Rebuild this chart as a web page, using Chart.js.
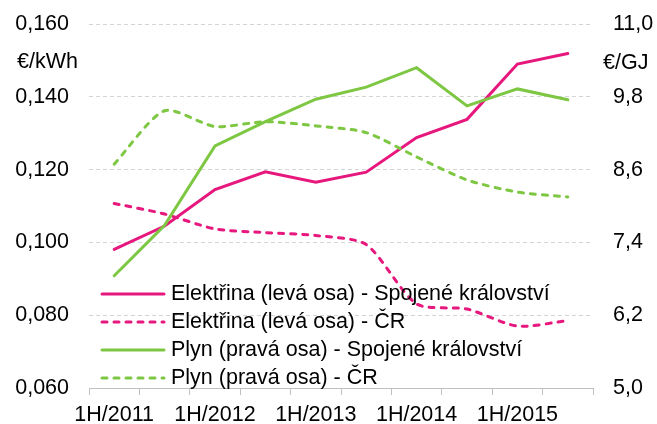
<!DOCTYPE html>
<html>
<head>
<meta charset="utf-8">
<script src="https://cdn.jsdelivr.net/npm/chart.js@4/dist/chart.umd.min.js"></script>
<style>
  body { margin: 0; background: #fff; }
  canvas { display: block; }
</style>
</head>
<body>
<canvas id="graf" width="657" height="424"></canvas>
<script>
// pololetí
const obdobi = ['1H/2011', '2H/2011', '1H/2012', '2H/2012', '1H/2013', '2H/2013', '1H/2014', '2H/2014', '1H/2015', '2H/2015'];

// €/kWh (levá osa)
const elektrinaUK = [0.0981, 0.1045, 0.1145, 0.1194, 0.1165, 0.1193, 0.1288, 0.1338, 0.1490, 0.1519];
const elektrinaCR = [0.1107, 0.1078, 0.1037, 0.1027, 0.1019, 0.0994, 0.0831, 0.0817, 0.0770, 0.0785];

// €/GJ (pravá osa)
const plynUK = [6.85, 7.68, 8.99, 9.39, 9.76, 9.96, 10.28, 9.65, 9.93, 9.75];
const plynCR = [8.69, 9.57, 9.31, 9.39, 9.32, 9.21, 8.81, 8.43, 8.23, 8.15];

const levaOsaTicks = [0.060, 0.080, 0.100, 0.120, 0.140, 0.160];
const pravaOsaTicks = [5.0, 6.2, 7.4, 8.6, 9.8, 11.0];

const popisky = [
    'Elektřina (levá osa) - Spojené království',
    'Elektřina (levá osa) - ČR',
    'Plyn (pravá osa) - Spojené království',
    'Plyn (pravá osa) - ČR'
];

const ruzova = '#e6177d';
const zelena = '#7dc742';
const carkovani = [5, 7];
const font = { family: '"Liberation Sans", Arial, sans-serif', size: 21.5 };

// vlastni legenda uvnitr grafu + jednotky os
const legendaPlugin = {
    id: 'legenda',
    afterDraw(chart) {
        const ctx = chart.ctx;
        const area = chart.chartArea;
        ctx.save();
        ctx.font = '21.5px "Liberation Sans", Arial, sans-serif';
        ctx.fillStyle = '#000';
        ctx.textBaseline = 'middle';
        ctx.textAlign = 'left';
        ctx.fillText('€/kWh', 17, 62);
        ctx.fillText('€/GJ', 603, 63);

        chart.data.datasets.forEach(function(ds, i) {
            const y = 294 + i * 28;
            ctx.beginPath();
            ctx.setLineDash(ds.borderDash || []);
            ctx.lineWidth = 3;
            ctx.lineCap = 'round';
            ctx.strokeStyle = ds.borderColor;
            ctx.moveTo(area.left + 13, y);
            ctx.lineTo(area.left + 75, y);
            ctx.stroke();
            ctx.setLineDash([]);
            ctx.fillText(ds.label, area.left + 82, y);
        });
        ctx.restore();
    }
};

// bez extra odsazeni od popisku osy
function bezOdsazeni(s, sirka) {
    s.width = sirka;
    s.paddingTop = 0;
    s.paddingBottom = 0;
}

new Chart(document.getElementById('graf'), {
    type: 'line',
    data: {
        labels: obdobi,
        datasets: [
            { label: popisky[0], data: elektrinaUK, yAxisID: 'y', borderColor: ruzova, order: 4 },
            { label: popisky[1], data: elektrinaCR, yAxisID: 'y', borderColor: ruzova, borderDash: carkovani, tension: 0.25, order: 3 },
            { label: popisky[2], data: plynUK, yAxisID: 'y2', borderColor: zelena, order: 2 },
            { label: popisky[3], data: plynCR, yAxisID: 'y2', borderColor: zelena, borderDash: carkovani, tension: 0.25, order: 1 }
        ]
    },
    options: {
        responsive: false,
        animation: false,
        layout: { padding: { top: 24, left: 0, right: 0, bottom: 0 } },
        elements: {
            point: { radius: 0 },
            line: { borderWidth: 3, fill: false, borderCapStyle: 'round' }
        },
        plugins: {
            legend: { display: false },
            tooltip: { enabled: false }
        },
        scales: {
            x: {
                offset: true,
                grid: { offset: true, drawOnChartArea: false, drawTicks: true, tickLength: 7, tickColor: '#bfbfbf', tickWidth: 1 },
                border: { display: true, color: '#bfbfbf', width: 1 },
                ticks: {
                    autoSkip: false,
                    maxRotation: 0,
                    padding: 7,
                    color: '#000',
                    font: font,
                    callback: function(v, i) { return i % 2 === 0 ? obdobi[i] : ''; }
                },
                afterFit: function(s) { s.height = 36; }
            },
            y: {
                position: 'left',
                min: 0.06,
                max: 0.16,
                afterBuildTicks: function(s) { s.ticks = levaOsaTicks.map(v => ({ value: v })); },
                grid: { color: '#d4d4d4', drawTicks: false, lineWidth: 1 },
                border: { display: false, dash: [4, 3] },
                ticks: {
                    padding: 20,
                    color: '#000',
                    font: font,
                    callback: function(v) { return v.toFixed(3).replace('.', ','); }
                },
                afterFit: function(s) { bezOdsazeni(s, 89); }
            },
            y2: {
                position: 'right',
                min: 5,
                max: 11,
                afterBuildTicks: function(s) { s.ticks = pravaOsaTicks.map(v => ({ value: v })); },
                grid: { drawOnChartArea: false, drawTicks: false },
                border: { display: false },
                ticks: {
                    padding: 20,
                    color: '#000',
                    font: font,
                    callback: function(v) { return v.toFixed(1).replace('.', ','); }
                },
                afterFit: function(s) { bezOdsazeni(s, 64); }
            }
        }
    },
    plugins: [legendaPlugin]
});
</script>
</body>
</html>
